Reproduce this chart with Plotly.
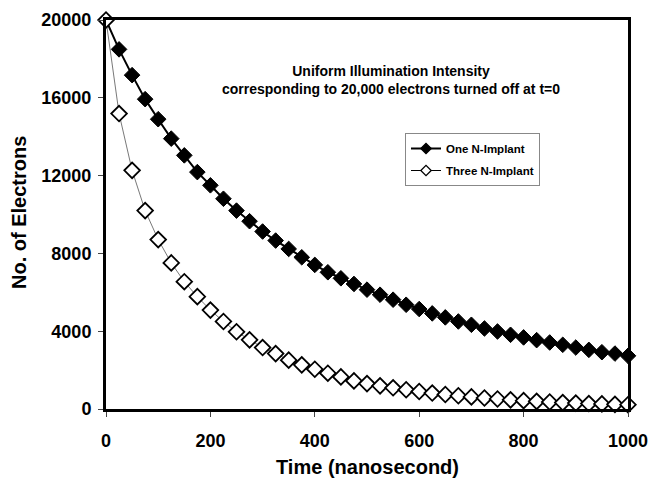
import plotly.graph_objects as go

time_ns = [i * 25 for i in range(41)]
one_implant = [20000, 18490, 17165, 15930, 14900, 13900, 13040, 12180, 11500, 10810,
               10200, 9655, 9125, 8660, 8230, 7800, 7410, 7030, 6720, 6430,
               6135, 5876, 5620, 5360, 5140, 4915, 4710, 4500, 4330, 4140,
               3985, 3815, 3680, 3540, 3420, 3300, 3160, 3040, 2920, 2850, 2735]
three_implant = [20000, 15190, 12270, 10200, 8710, 7510, 6545, 5775, 5085, 4500,
                 3970, 3555, 3160, 2850, 2510, 2270, 2045, 1840, 1650, 1445,
                 1305, 1190, 1090, 990, 900, 820, 745, 680, 620, 565,
                 515, 470, 430, 395, 360, 330, 305, 280, 260, 240, 220]
series_names = ["One N-Implant", "Three N-Implant"]
x_ticks = [0, 200, 400, 600, 800, 1000]
y_ticks = [0, 4000, 8000, 12000, 16000, 20000]

FONT = "Liberation Sans, Arial, sans-serif"

styles = [
    dict(line=dict(color="black", width=2), fill="black", edge_w=1),
    dict(line=dict(color="#555555", width=0.8), fill="white", edge_w=1.8),
]

fig = go.Figure()
for name, ys, st, grp in zip(series_names, [one_implant, three_implant], styles, ["a", "b"]):
    fig.add_trace(go.Scatter(
        x=time_ns, y=ys, mode="lines+markers", name=f"<b>{name}</b>",
        legendgroup=grp, showlegend=False,
        line=st["line"],
        marker=dict(symbol="diamond", size=12, color=st["fill"],
                    line=dict(color="black", width=st["edge_w"])),
        cliponaxis=False))
for name, st, grp in zip(series_names, styles, ["a", "b"]):
    fig.add_trace(go.Scatter(
        x=[None], y=[None], mode="lines+markers", name=f"<b>{name}</b>",
        legendgroup=grp, showlegend=True,
        line=dict(color="black", width=st["line"]["width"] if st["fill"] == "black" else 1),
        marker=dict(symbol="diamond", size=8, color=st["fill"],
                    line=dict(color="black", width=1.3))))

fig.update_layout(
    width=649, height=481,
    margin=dict(l=106, r=21, t=20, b=72, autoexpand=False),
    paper_bgcolor="white", plot_bgcolor="white",
    font=dict(family=FONT, color="black"),
    showlegend=True,
    legend=dict(x=(405 - 106) / 522, y=(409 - 133) / 389, xanchor="left", yanchor="top",
                bordercolor="#888888", borderwidth=1, bgcolor="white",
                font=dict(size=11.5, family=FONT, color="black"),
                tracegroupgap=3),
    annotations=[
        dict(text="<b>Uniform Illumination Intensity<br>corresponding to 20,000 electrons turned off at t=0</b>",
             xref="paper", yref="paper", x=(391 - 106) / 522, y=(409 - 80) / 389,
             xanchor="center", yanchor="middle", showarrow=False,
             font=dict(size=14, family=FONT, color="black")),
        dict(text="<b>No. of Electrons</b>", textangle=-90,
             xref="paper", yref="paper", x=(19 - 106) / 522, y=(409 - 213) / 389,
             xanchor="center", yanchor="middle", showarrow=False,
             font=dict(size=20, family=FONT, color="black")),
        dict(text="<b>Time (nanosecond)</b>",
             xref="paper", yref="paper", x=0.5, y=(409 - 467) / 389,
             xanchor="center", yanchor="middle", showarrow=False,
             font=dict(size=20, family=FONT, color="black")),
    ],
)
fig.update_xaxes(range=[0, 1000], tickvals=x_ticks, ticktext=[f"<b>{v}</b>" for v in x_ticks],
                 showgrid=False, zeroline=False, showline=True, linecolor="black",
                 linewidth=3, mirror=True, ticks="outside", ticklen=5, tickwidth=1,
                 tickcolor="#444444", ticklabelstandoff=8, automargin=False,
                 tickfont=dict(size=18, family=FONT, color="black"))
fig.update_yaxes(range=[0, 20000], tickvals=y_ticks, ticktext=[f"<b>{v}</b>" for v in y_ticks],
                 showgrid=False, zeroline=False, showline=True, linecolor="black",
                 linewidth=3, mirror=True, ticks="outside", ticklen=5, tickwidth=1,
                 tickcolor="#444444", ticklabelstandoff=3, automargin=False,
                 tickfont=dict(size=18, family=FONT, color="black"))

fig.write_html("out.html")
